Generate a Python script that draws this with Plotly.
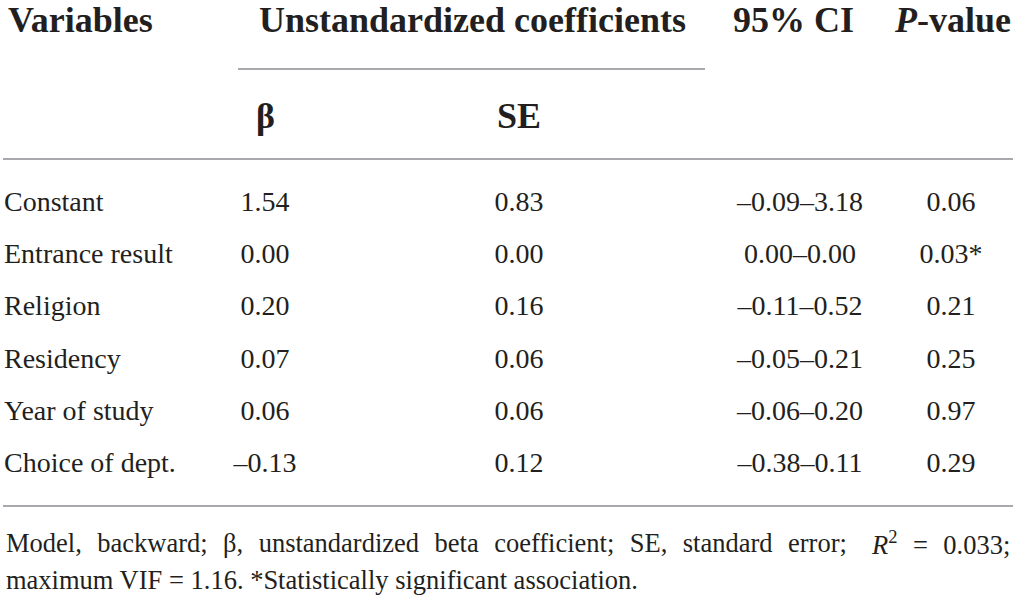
import plotly.graph_objects as go

# table content
variables = ["Constant", "Entrance result", "Religion", "Residency", "Year of study", "Choice of dept."]
beta = ["1.54", "0.00", "0.20", "0.07", "0.06", "–0.13"]
se = ["0.83", "0.00", "0.16", "0.06", "0.06", "0.12"]
ci = ["–0.09–3.18", "0.00–0.00", "–0.11–0.52", "–0.05–0.21", "–0.06–0.20", "–0.38–0.11"]
p_values = ["0.06", "0.03*", "0.21", "0.25", "0.97", "0.29"]

headers = ["Variables", "Unstandardized coefficients", "95% CI", "<i>P</i>-value"]
sub_headers = ["β", "SE"]

footnote_1a = "Model, backward; β, unstandardized beta coefficient; SE, standard error;"
footnote_1b = "<i>R</i><sup>2</sup> = 0.033;"
footnote_2 = "maximum VIF = 1.16. *Statistically significant association."

W, H = 1017, 601
INK = "#231f20"
RULE = "#a7a9ac"
SERIF = "Liberation Serif"
GAP = "\u00a0\u2004"  # wider word gap, the first footnote line is justified


def main() -> None:
    row_y = [204 + 52.2 * i for i in range(len(variables))]

    fig = go.Figure()

    columns = [
        (variables, 4, "middle right"),
        (beta, 265, "middle center"),
        (se, 519, "middle center"),
        (ci, 800, "middle center"),
        (p_values, 951, "middle center"),
    ]
    for values, x, pos in columns:
        fig.add_trace(
            go.Scatter(
                x=[x] * len(values),
                y=row_y,
                mode="text",
                text=values,
                textposition=pos,
                textfont=dict(family=SERIF, size=28, color=INK),
                hoverinfo="skip",
                showlegend=False,
            )
        )

    head_font = dict(family=SERIF, size=36, color=INK)
    head_x = [(6, "left"), (472, "center"), (793, "center"), (952, "center")]
    for text, (x, anchor) in zip(headers, head_x):
        fig.add_annotation(x=x, y=20, text="<b>%s</b>" % text, xanchor=anchor,
                           yanchor="middle", showarrow=False, font=head_font)
    for text, x in zip(sub_headers, [265, 519]):
        fig.add_annotation(x=x, y=116, text="<b>%s</b>" % text, xanchor="center",
                           yanchor="middle", showarrow=False, font=head_font)

    foot_font = dict(family=SERIF, size=26.5, color=INK)
    fig.add_annotation(x=4, y=543, text=footnote_1a.replace(" ", GAP),
                       xanchor="left", yanchor="middle", showarrow=False, font=foot_font)
    fig.add_annotation(x=1012, y=543, text=footnote_1b.replace(" ", GAP),
                       xanchor="right", yanchor="middle", showarrow=False, font=foot_font)
    fig.add_annotation(x=4, y=580, text=footnote_2, xanchor="left",
                       yanchor="middle", showarrow=False, font=foot_font)

    for x0, x1, y in [(238, 705, 69), (3, 1013, 159), (3, 1013, 506)]:
        fig.add_shape(type="line", x0=x0, x1=x1, y0=y, y1=y, xref="x", yref="y",
                      line=dict(color=RULE, width=2))

    fig.update_xaxes(range=[0, W], visible=False, fixedrange=True)
    fig.update_yaxes(range=[H, 0], visible=False, fixedrange=True)
    fig.update_layout(
        width=W,
        height=H,
        margin=dict(l=0, r=0, t=0, b=0),
        paper_bgcolor="white",
        plot_bgcolor="white",
    )

    fig.write_html(
        "out.html",
        config={"displayModeBar": False},
        post_script="document.body.style.margin='0';document.body.style.overflow='hidden';",
    )


if __name__ == "__main__":
    main()
